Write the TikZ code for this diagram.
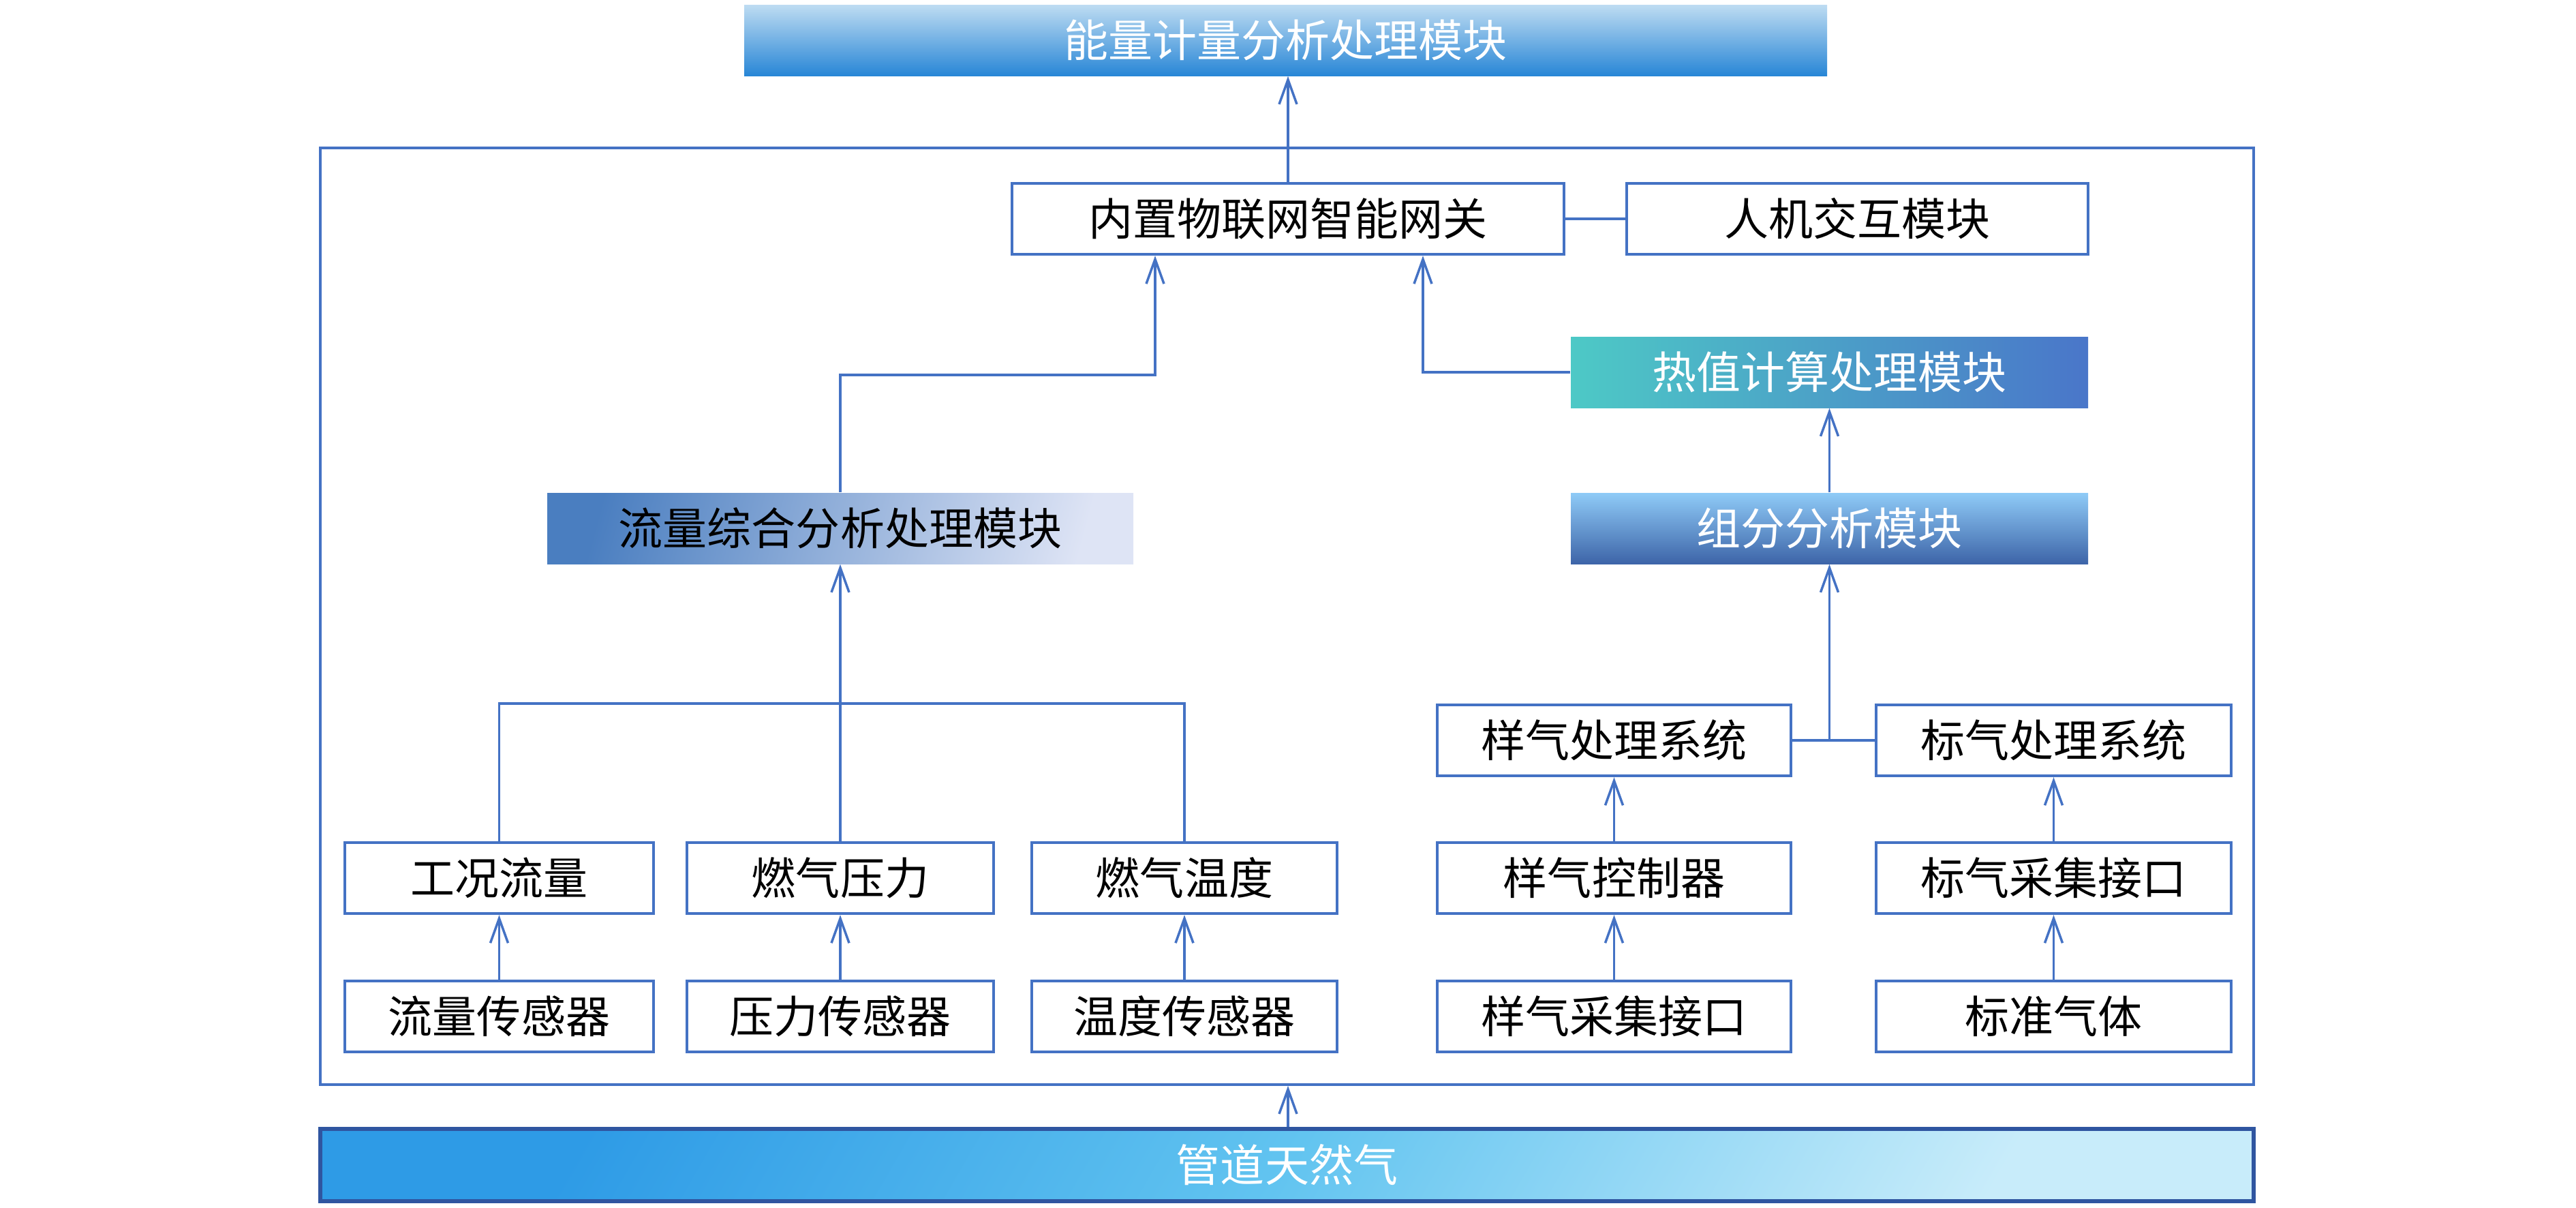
\documentclass[tikz,border=0pt]{standalone}
\usepackage{fontspec}
\setmainfont{Noto Sans CJK SC}
\usetikzlibrary{arrows.meta}
\definecolor{lineblue}{HTML}{4472C4}
\definecolor{pipeedge}{HTML}{2F55A0}

\begin{document}
\begin{tikzpicture}[font=\fontsize{18.5}{20}\selectfont]
		\tikzstyle{box}=[draw=lineblue, line width=1.2pt, fill=white, inner sep=0pt, minimum height=1.04cm]
		\tikzstyle{shbox}=[inner sep=0pt, minimum height=1.04cm, text=white]
		\tikzstyle{arr}=[draw=lineblue, line width=1pt, -{Straight Barb[length=3.6mm,width=2.6mm]}]
		\tikzstyle{ln}=[draw=lineblue, line width=1pt]
		\useasboundingbox (0,0) rectangle (37.8,-17.72);
		% outer frame
		\node[draw=lineblue, line width=1pt, inner sep=0pt, minimum width=28.37cm, minimum height=13.74cm] (frame) at (18.885,-9.04) {};
		% top and bottom
		\node[shbox, top color={rgb,255:red,190;green,220;blue,242}, bottom color={rgb,255:red,40;green,134;blue,214}, minimum width=15.89cm] (energy) at (18.865,-0.59) {能量计量分析处理模块};
		\node[shbox, draw=pipeedge, line width=1.5pt, left color={rgb,255:red,46;green,155;blue,230}, right color={rgb,255:red,200;green,236;blue,250}, middle color={rgb,255:red,98;green,196;blue,240}, shading angle=60, minimum width=28.37cm, minimum height=1.06cm] (pipe) at (18.885,-17.09) {管道天然气};
		% gateway
		\node[box, minimum width=8.10cm] (gateway) at (18.90,-3.21) {内置物联网智能网关};
		\node[box, minimum width=6.77cm] (hmi) at (27.255,-3.21) {人机交互模块};
		% modules
		\node[shbox, left color={rgb,255:red,77;green,201;blue,198}, right color={rgb,255:red,74;green,118;blue,201}, minimum width=7.59cm] (heat) at (26.845,-5.46) {热值计算处理模块};
		\node[shbox, top color={rgb,255:red,143;green,203;blue,247}, bottom color={rgb,255:red,61;green,100;blue,168}, minimum width=7.59cm] (comp) at (26.845,-7.75) {组分分析模块};
		\node[inner sep=0pt, minimum height=1.04cm, left color={rgb,255:red,74;green,126;blue,192}, middle color={rgb,255:red,112;green,180;blue,228}, right color={rgb,255:red,222;green,228;blue,245}, shading angle=75, minimum width=8.60cm] (flowmod) at (12.33,-7.75) {流量综合分析处理模块};
		% gas handling
		\node[box, minimum width=5.19cm] (ypro) at (23.685,-10.86) {样气处理系统};
		\node[box, minimum width=5.21cm] (bpro) at (30.135,-10.86) {标气处理系统};
		\node[box, minimum width=5.19cm] (yctl) at (23.685,-12.88) {样气控制器};
		\node[box, minimum width=5.21cm] (bcol) at (30.135,-12.88) {标气采集接口};
		\node[box, minimum width=5.19cm] (ycol) at (23.685,-14.91) {样气采集接口};
		\node[box, minimum width=5.21cm] (bgas) at (30.135,-14.91) {标准气体};
		% sensors
		\node[box, minimum width=4.53cm] (gkll) at (7.325,-12.88) {工况流量};
		\node[box, minimum width=4.50cm] (rqyl) at (12.33,-12.88) {燃气压力};
		\node[box, minimum width=4.48cm] (rqwd) at (17.38,-12.88) {燃气温度};
		\node[box, minimum width=4.53cm] (llcg) at (7.325,-14.91) {流量传感器};
		\node[box, minimum width=4.50cm] (ylcg) at (12.33,-14.91) {压力传感器};
		\node[box, minimum width=4.48cm] (wdcg) at (17.38,-14.91) {温度传感器};
		% connectors
		\coordinate (jflow) at (16.95,-5.50);
		\coordinate (jheat) at (20.88,0);
		\coordinate (jsens) at (0,-10.32);
		\draw[arr] (gateway.north) -- (gateway.north |- energy.south);
		\draw[ln] (gateway.east) -- (hmi.west);
		\draw[arr] (flowmod.north) |- (jflow) -- (jflow |- gateway.south);
		\draw[arr] (heat.west) -| (jheat |- gateway.south);
		\draw[arr] (comp.north) -- (heat.south);
		\draw[ln] (ypro.east) -- (bpro.west);
		\draw[arr] (ypro.east -| comp.south) -- (comp.south);
		\draw[arr] (yctl) -- (ypro);
		\draw[arr] (ycol) -- (yctl);
		\draw[arr] (bcol) -- (bpro);
		\draw[arr] (bgas) -- (bcol);
		\draw[ln] (gkll.north) |- (jsens -| rqwd.north) -- (rqwd.north);
		\draw[arr] (rqyl.north) -- (flowmod.south);
		\draw[arr] (llcg) -- (gkll);
		\draw[arr] (ylcg) -- (rqyl);
		\draw[arr] (wdcg) -- (rqwd);
		\draw[arr] (pipe.north -| gateway.north) -- (frame.south -| gateway.north);
	\end{tikzpicture}
\end{document}
